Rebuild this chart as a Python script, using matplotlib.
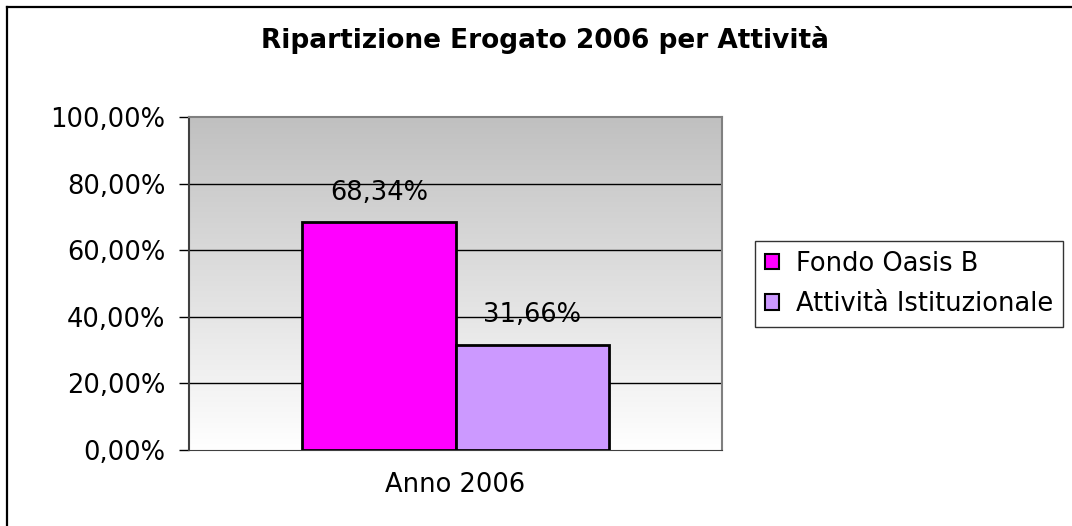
import matplotlib
matplotlib.use("Agg")
import matplotlib.pyplot as plt
import numpy as np
from matplotlib.lines import Line2D
from matplotlib.colors import LinearSegmentedColormap

plt.rcParams['font.family'] = ['DejaVu Sans']

categories = ["Anno 2006"]
series_names = ["Fondo Oasis B", "Attività Istituzionale"]
series_values = [68.34, 31.66]
series_colors = ["#FF00FF", "#CC99FF"]
yticks = [0, 20, 40, 60, 80, 100]
ytick_labels = ["0,00%", "20,00%", "40,00%", "60,00%", "80,00%", "100,00%"]
title = "Ripartizione Erogato 2006 per Attività"

W, H = 1072, 526
fig = plt.figure(figsize=(W / 100, H / 100), dpi=100)

# figure border (only left and top visible, rest cropped)
fig.add_artist(Line2D([7 / W, 7 / W], [0, 1 - 7 / H], transform=fig.transFigure,
                      color="black", linewidth=1.6))
fig.add_artist(Line2D([7 / W, 1], [1 - 7 / H, 1 - 7 / H], transform=fig.transFigure,
                      color="black", linewidth=1.6))

ax = fig.add_axes([189 / W, 1 - 450 / H, (722 - 189) / W, (450 - 117) / H])

# gradient background
grad = np.linspace(0, 1, 256).reshape(-1, 1)
cmap = LinearSegmentedColormap.from_list("g", ["#FFFFFF", "#C0C0C0"])
ax.imshow(grad, extent=[0, 1, 0, 1], transform=ax.transAxes, cmap=cmap,
          origin="lower", aspect="auto", zorder=0)

ax.set_xlim(-0.5, 0.5)
ax.set_ylim(0, 100)

width = 0.2875
x0 = 0
offsets = [-width / 2, width / 2]
for name, val, col, off in zip(series_names, series_values, series_colors, offsets):
    ax.bar(x0 + off, val, width=width, color=col, edgecolor="black",
           linewidth=2, label=name, zorder=3)
    ax.annotate(f"{val:.2f}%".replace(".", ","), (x0 + off, val),
                xytext=(0, 21), textcoords="offset points",
                ha="center", va="center", fontsize=18.5, zorder=4)

for y in yticks[1:-1]:
    ax.axhline(y, color="black", linewidth=1, zorder=1)

ax.set_yticks(yticks)
ax.set_yticklabels(ytick_labels, fontsize=18.5)
ax.set_xticks([0])
ax.set_xticklabels(categories, fontsize=18.5)
ax.tick_params(axis="x", length=0, pad=16)
ax.tick_params(axis="y", length=7, width=1, direction="out", pad=10)

for s in ["top", "right"]:
    ax.spines[s].set_color("#808080")
    ax.spines[s].set_linewidth(1.5)
ax.spines["left"].set_color("#404040")
ax.spines["left"].set_linewidth(1.5)
ax.spines["bottom"].set_color("#404040")

fig.text(545 / W, 1 - 40 / H, title, ha="center", va="center",
         fontsize=19, fontweight="bold")

leg = ax.legend(loc="upper left", bbox_to_anchor=(755 / W, 1 - 241 / H),
                bbox_transform=fig.transFigure, fontsize=18.5, frameon=True,
                fancybox=False, edgecolor="black", handlelength=0.55,
                handleheight=0.55, handletextpad=0.65, borderpad=0.38,
                borderaxespad=0, labelspacing=0.55)
leg.get_frame().set_linewidth(1)
for h in leg.legend_handles:
    h.set_linewidth(1.5)

fig.savefig("out.png", dpi=100)
